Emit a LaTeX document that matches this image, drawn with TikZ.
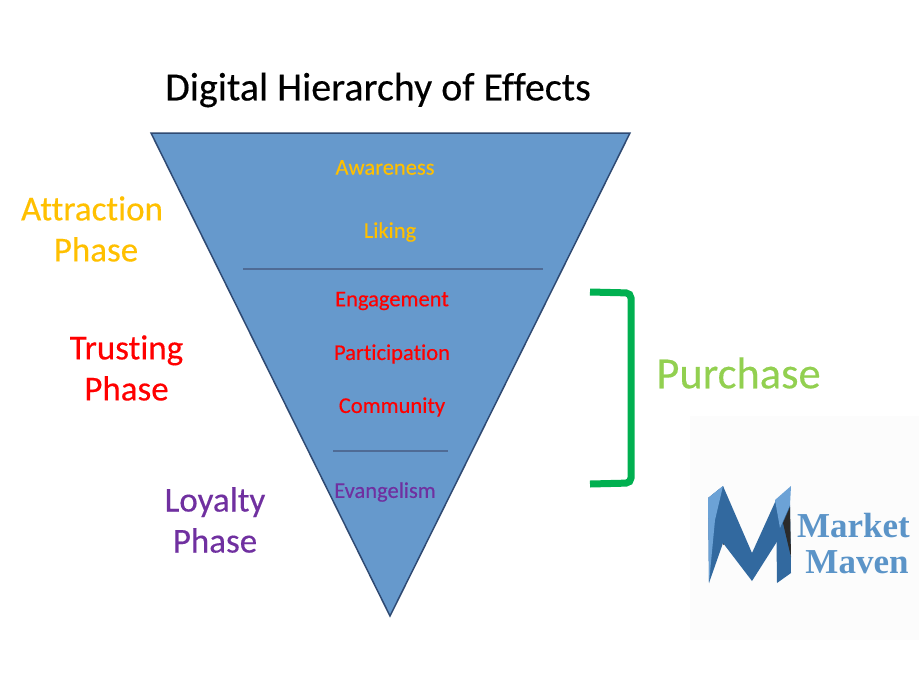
\documentclass[tikz,border=0pt]{standalone}
\usepackage{fontspec}
\usepackage{xcolor}
\setmainfont[Ligatures=NoCommon,FakeBold=0.3]{Carlito}
\newfontfamily\logofont{Liberation Serif}
\definecolor{funnelblue}{HTML}{6699CC}
\definecolor{funneledge}{HTML}{2F4A73}
\definecolor{dividerblue}{HTML}{4F6B95}
\definecolor{attractgold}{HTML}{FFC000}
\definecolor{trustred}{HTML}{FF0000}
\definecolor{loyalpurple}{HTML}{7030A0}
\definecolor{bracketgreen}{HTML}{00B050}
\definecolor{purchasegreen}{HTML}{92D050}
\definecolor{logolight}{HTML}{6CA2D6}
\definecolor{logomid}{HTML}{32699F}
\definecolor{logotext}{HTML}{5B94C8}
\definecolor{logodark}{HTML}{2B2B2B}
\usetikzlibrary{positioning}

\begin{document}
\begin{tikzpicture}[
  x=1pt, y=-1pt,
  every node/.style={inner sep=0pt, align=center},
  levellabel/.style={font=\fontsize{22.5}{22.5}\selectfont},
  phaselabel/.style={font=\fontsize{35}{41}\selectfont},
  logolabel/.style={font=\fontsize{35}{38}\selectfont\logofont\bfseries, text=logotext},
  divider/.style={draw=dividerblue, line width=2pt}]

\useasboundingbox (0,0) rectangle (919,673);
\fill[white] (0,0) rectangle (919,673);
\fill[black!1] (690,416) rectangle (919,640);

% funnel
\coordinate (top left) at (151,133);
\coordinate (top right) at (630,133);
\coordinate (tip) at (390,616);
\draw[fill=funnelblue, draw=funneledge, line width=1.5pt] (top left) -- (top right) -- (tip) -- cycle;

\node (title) at (378,90) {\fontsize{40}{40}\selectfont Digital Hierarchy of Effects};

% levels
\node[levellabel, text=attractgold] (awareness) at (385,167.5) {Awareness};
\node[levellabel, text=attractgold] (liking) at (390,232) {Liking};
\node[levellabel, text=trustred] (engagement) at (392,301) {Engagement};
\node[levellabel, text=trustred] (participation) at (392,354) {Participation};
\node[levellabel, text=trustred] (community) at (392,407) {Community};
\node[levellabel, text=loyalpurple] (evangelism) at (385,492) {Evangelism};

\coordinate (div1 left) at (243,269);
\coordinate (div1 right) at (543,269);
\coordinate (div2 left) at (333,451);
\coordinate (div2 right) at (448,451);
\draw[divider] (div1 left) -- (div1 right);
\draw[divider] (div2 left) -- (div2 right);

% phases
\node[phaselabel, text=attractgold] (attraction) at (92,229) {Attraction\\\hspace*{8pt}Phase};
\node[phaselabel, text=trustred] (trusting) at (126.5,368) {Trusting\\Phase};
\node[phaselabel, text=loyalpurple] (loyalty) at (215,520) {Loyalty\\Phase};

% bracket
\coordinate (br top) at (590,292);
\coordinate (br bottom) at (590,484);
\draw[bracketgreen, line width=7pt, rounded corners=5pt]
  (br top) -- (631,293) -- (631,483) -- (br bottom);
\node[text=purchasegreen, font=\fontsize{44.5}{44.5}\selectfont] (purchase) at (738.5,373) {Purchase};

% logo
\fill[logomid] (708,498) -- (723,486) -- (723,543) -- (709,583) -- cycle;
\fill[logolight] (708,498) -- (723,486) -- (715,520) -- (709,583) -- cycle;
\fill[logodark] (723,517) -- (730,538) -- (723,545) -- cycle;
\fill[logomid] (723,486) -- (752,553) -- (776,500) -- (778,540) -- (752,581) -- (723,543) -- cycle;
\fill[logomid] (776,500) -- (790,505) -- (791,573) -- (777,583) -- cycle;
\fill[logolight] (775,500) -- (791,486) -- (790,505) -- (780,528) -- cycle;
\fill[logodark] (790,507) -- (783,523) -- (791,557) -- cycle;
\node[logolabel] (market) at (853.5,526) {Market};
\node[logolabel] (maven) at (857,562) {Maven};
\end{tikzpicture}
\end{document}
